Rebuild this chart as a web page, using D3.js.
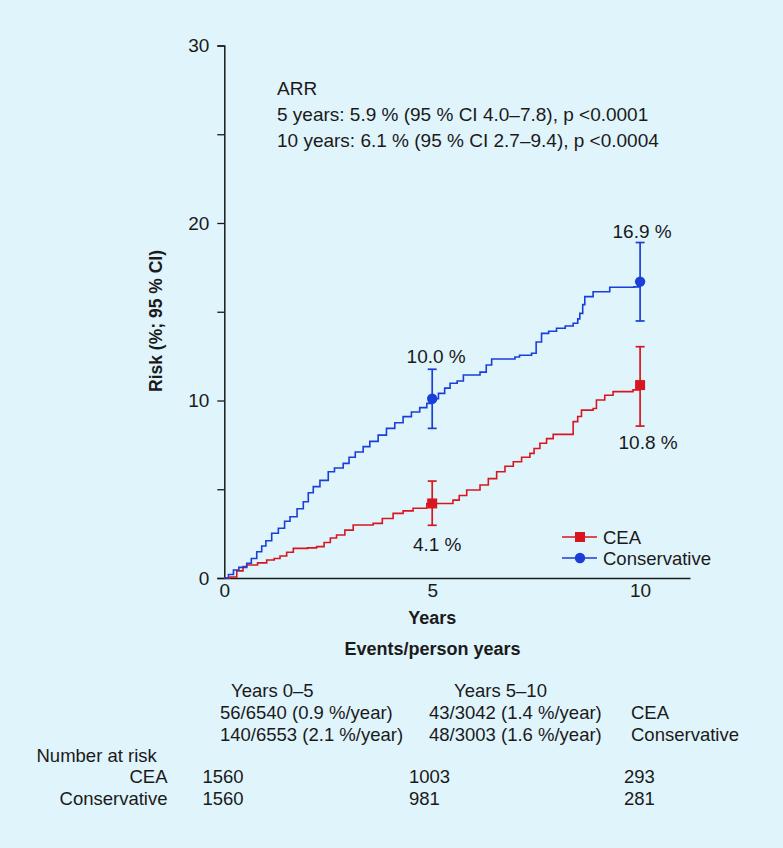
<!DOCTYPE html>
<html>
<head>
<meta charset="utf-8">
<script src="https://cdn.jsdelivr.net/npm/d3@7"></script>
<style>
  html, body { margin: 0; padding: 0; background: #e0f4fc; }
  svg { display: block; font-family: "Liberation Sans", Arial, sans-serif; }
</style>
</head>
<body>
<svg id="chart" width="783" height="848"></svg>
<script>
// ---------- DATA ----------
const conservativeTimes = [0,0.1,0.22,0.35,0.54,0.65,0.78,0.9,1.0,1.14,1.3,1.45,1.58,1.75,1.9,2.02,2.14,2.3,2.5,2.65,2.86,3.0,3.15,3.34,3.5,3.7,3.9,4.1,4.3,4.5,4.7,4.87,5.0,5.15,5.3,5.43,5.6,5.75,6.15,6.3,6.43,6.99,7.1,7.39,7.5,7.63,7.8,7.99,8.2,8.39,8.5,8.55,8.62,8.67,8.87,9.27,9.85,10];
const conservativeRisk  = [0,0.2,0.45,0.6,0.83,1.1,1.48,1.8,2.1,2.52,2.8,3.2,3.45,3.9,4.3,4.8,5.15,5.5,5.99,6.2,6.46,6.8,7.1,7.4,7.7,8.05,8.43,8.75,9.09,9.35,9.6,9.84,10.1,10.4,10.7,10.97,11.1,11.44,11.6,12.0,12.34,12.45,12.55,12.66,13.3,13.78,13.9,14.07,14.2,14.35,14.6,14.91,15.4,15.85,16.13,16.38,16.4,16.7];
const ceaTimes = [0,0.14,0.3,0.45,0.54,0.8,1.02,1.2,1.34,1.5,1.66,2.0,2.22,2.4,2.55,2.7,2.9,3.1,3.58,3.8,4.06,4.3,4.54,4.87,5.0,5.5,5.65,5.83,6.15,6.35,6.55,6.75,6.95,7.15,7.35,7.45,7.59,7.75,7.91,8.27,8.39,8.5,8.59,8.87,8.95,9.15,9.35,9.83,10];
const ceaRisk  = [0,0.06,0.4,0.65,0.73,0.85,1.01,1.1,1.24,1.45,1.67,1.7,1.77,2.0,2.25,2.42,2.7,2.99,3.08,3.35,3.64,3.78,3.93,4.2,4.2,4.39,4.65,4.96,5.24,5.6,5.99,6.3,6.55,6.8,7.02,7.3,7.59,7.85,8.09,8.09,8.81,9.1,9.46,9.55,10.03,10.3,10.5,10.6,10.87];

const ciYears = [5, 10];
const conservativeEst = [10.1, 16.7];
const conservativeLo  = [8.43, 14.48];
const conservativeHi  = [11.76, 18.9];
const conservativeLabels = ["10.0 %", "16.9 %"];
const ceaEst = [4.2, 10.87];
const ceaLo  = [2.97, 8.56];
const ceaHi  = [5.46, 13.03];
const ceaLabels = ["4.1 %", "10.8 %"];

const yTicks = [0, 5, 10, 15, 20, 25, 30];
const yTickLabels = ["0", "", "10", "", "20", "", "30"];
const xTicks = [0, 5, 10];

const arrLines = ["ARR",
  "5 years: 5.9 % (95 % CI 4.0–7.8), p <0.0001",
  "10 years: 6.1 % (95 % CI 2.7–9.4), p <0.0004"];

const periodHeaders = ["Years 0–5", "Years 5–10"];
const eventsCEA = ["56/6540 (0.9 %/year)", "43/3042 (1.4 %/year)", "CEA"];
const eventsCons = ["140/6553 (2.1 %/year)", "48/3003 (1.6 %/year)", "Conservative"];
const riskGroups = ["CEA", "Conservative"];
const riskCEA = ["1560", "1003", "293"];
const riskCons = ["1560", "981", "281"];

const legendNames = ["CEA", "Conservative"];

// ---------- STYLE ----------
const RED = "#d8161f", BLUE = "#1a3ed8", TEXT = "#1a1a1a";
const FONT = "Liberation Sans";

const svg = d3.select("#chart");
const x = d3.scaleLinear().domain([0, 11.2]).range([224.3, 224.3 + 41.58 * 11.2]);
const y = d3.scaleLinear().domain([0, 30]).range([578, 45.5]);

// axes
const yAxis = d3.axisLeft(y).tickValues(yTicks)
  .tickFormat((d, i) => yTickLabels[i]).tickSize(7).tickPadding(8);
const gy = svg.append("g").attr("transform", `translate(${x(0)},0)`).call(yAxis);
gy.select(".domain").attr("stroke", TEXT).attr("stroke-width", 1.5);
gy.selectAll(".tick line").attr("stroke", TEXT).attr("stroke-width", 1.3);
gy.selectAll(".tick text").attr("font-size", 19).attr("fill", TEXT).attr("font-family", FONT);

const xAxis = d3.axisBottom(x).tickValues(xTicks).tickSize(0).tickPadding(6).tickSizeOuter(0);
const gx = svg.append("g").attr("transform", `translate(0,${y(0)})`).call(xAxis);
gx.select(".domain").attr("stroke", TEXT).attr("stroke-width", 1.5);
gx.selectAll(".tick text").attr("font-size", 19).attr("fill", TEXT).attr("font-family", FONT);

// axis titles
svg.append("text").attr("transform", `translate(162,321) rotate(-90)`)
  .attr("text-anchor", "middle").attr("font-weight", "bold").attr("font-size", 17.5)
  .attr("fill", TEXT).text("Risk (%; 95 % CI)");
svg.append("text").attr("x", x(5)).attr("y", 624).attr("text-anchor", "middle")
  .attr("font-weight", "bold").attr("font-size", 18).attr("fill", TEXT).text("Years");

// curves
const line = d3.line().x(d => x(d[0])).y(d => y(d[1])).curve(d3.curveStepAfter);
const consData = conservativeTimes.map((t, i) => [t, conservativeRisk[i]]);
const ceaData = ceaTimes.map((t, i) => [t, ceaRisk[i]]);
svg.append("path").datum(ceaData).attr("d", line).attr("fill", "none")
  .attr("stroke", RED).attr("stroke-width", 1.6);
svg.append("path").datum(consData).attr("d", line).attr("fill", "none")
  .attr("stroke", BLUE).attr("stroke-width", 1.6);

// error bars + markers
function ciGroup(est, lo, hi, color, shape) {
  const g = svg.append("g");
  ciYears.forEach((yr, i) => {
    const cx = x(yr);
    g.append("line").attr("x1", cx).attr("x2", cx).attr("y1", y(lo[i])).attr("y2", y(hi[i]))
      .attr("stroke", color).attr("stroke-width", 1.7);
    [lo[i], hi[i]].forEach(v => g.append("line").attr("x1", cx - 4.5).attr("x2", cx + 4.5)
      .attr("y1", y(v)).attr("y2", y(v)).attr("stroke", color).attr("stroke-width", 1.7));
    if (shape === "circle") g.append("circle").attr("cx", cx).attr("cy", y(est[i])).attr("r", 5.2).attr("fill", color);
    else g.append("rect").attr("x", cx - 5).attr("y", y(est[i]) - 5).attr("width", 10).attr("height", 10).attr("fill", color);
  });
}
ciGroup(ceaEst, ceaLo, ceaHi, RED, "square");
ciGroup(conservativeEst, conservativeLo, conservativeHi, BLUE, "circle");

// value labels
const fs = 19;
svg.append("text").attr("x", x(5) + 4).attr("y", y(conservativeHi[0]) - 6).attr("text-anchor", "middle")
  .attr("font-size", fs).attr("fill", TEXT).text(conservativeLabels[0]);
svg.append("text").attr("x", x(10) + 2).attr("y", y(conservativeHi[1]) - 5).attr("text-anchor", "middle")
  .attr("font-size", fs).attr("fill", TEXT).text(conservativeLabels[1]);
svg.append("text").attr("x", x(5) + 5).attr("y", y(ceaLo[0]) + 26).attr("text-anchor", "middle")
  .attr("font-size", fs).attr("fill", TEXT).text(ceaLabels[0]);
svg.append("text").attr("x", x(10) + 8).attr("y", y(ceaLo[1]) + 23).attr("text-anchor", "middle")
  .attr("font-size", fs).attr("fill", TEXT).text(ceaLabels[1]);

// ARR annotation
arrLines.forEach((t, i) => svg.append("text").attr("x", 277).attr("y", 95 + i * 26)
  .attr("font-size", fs).attr("fill", TEXT).text(t));

// legend
const legColors = [RED, BLUE], legY = [537, 558];
legendNames.forEach((n, i) => {
  const g = svg.append("g");
  g.append("line").attr("x1", 562).attr("x2", 597).attr("y1", legY[i]).attr("y2", legY[i])
    .attr("stroke", legColors[i]).attr("stroke-width", 1.7);
  if (i === 0) g.append("rect").attr("x", 575).attr("y", legY[i] - 5).attr("width", 10).attr("height", 10).attr("fill", RED);
  else g.append("circle").attr("cx", 580).attr("cy", legY[i]).attr("r", 5.2).attr("fill", BLUE);
  g.append("text").attr("x", 603).attr("y", legY[i] + 6.5).attr("font-size", 18.5).attr("fill", TEXT).text(n);
});

// events / person years
svg.append("text").attr("x", 432.5).attr("y", 655).attr("text-anchor", "middle")
  .attr("font-weight", "bold").attr("font-size", 18).attr("fill", TEXT).text("Events/person years");
const tfs = 18.5;
const colX = [220, 429, 631];
svg.append("text").attr("x", 231).attr("y", 697).attr("font-size", tfs).attr("fill", TEXT).text(periodHeaders[0]);
svg.append("text").attr("x", 454).attr("y", 697).attr("font-size", tfs).attr("fill", TEXT).text(periodHeaders[1]);
eventsCEA.forEach((t, i) => svg.append("text").attr("x", colX[i]).attr("y", 719)
  .attr("font-size", tfs).attr("fill", TEXT).text(t));
eventsCons.forEach((t, i) => svg.append("text").attr("x", colX[i]).attr("y", 740.5)
  .attr("font-size", tfs).attr("fill", TEXT).text(t));

// number at risk
svg.append("text").attr("x", 36.5).attr("y", 762).attr("font-size", tfs).attr("fill", TEXT).text("Number at risk");
const riskX = [202.5, 409, 624];
[riskCEA, riskCons].forEach((row, r) => {
  const yy = 783 + r * 21.5;
  svg.append("text").attr("x", 167.5).attr("y", yy).attr("text-anchor", "end")
    .attr("font-size", tfs).attr("fill", TEXT).text(riskGroups[r]);
  row.forEach((v, i) => svg.append("text").attr("x", riskX[i]).attr("y", yy)
    .attr("font-size", tfs).attr("fill", TEXT).text(v));
});
</script>
</body>
</html>
